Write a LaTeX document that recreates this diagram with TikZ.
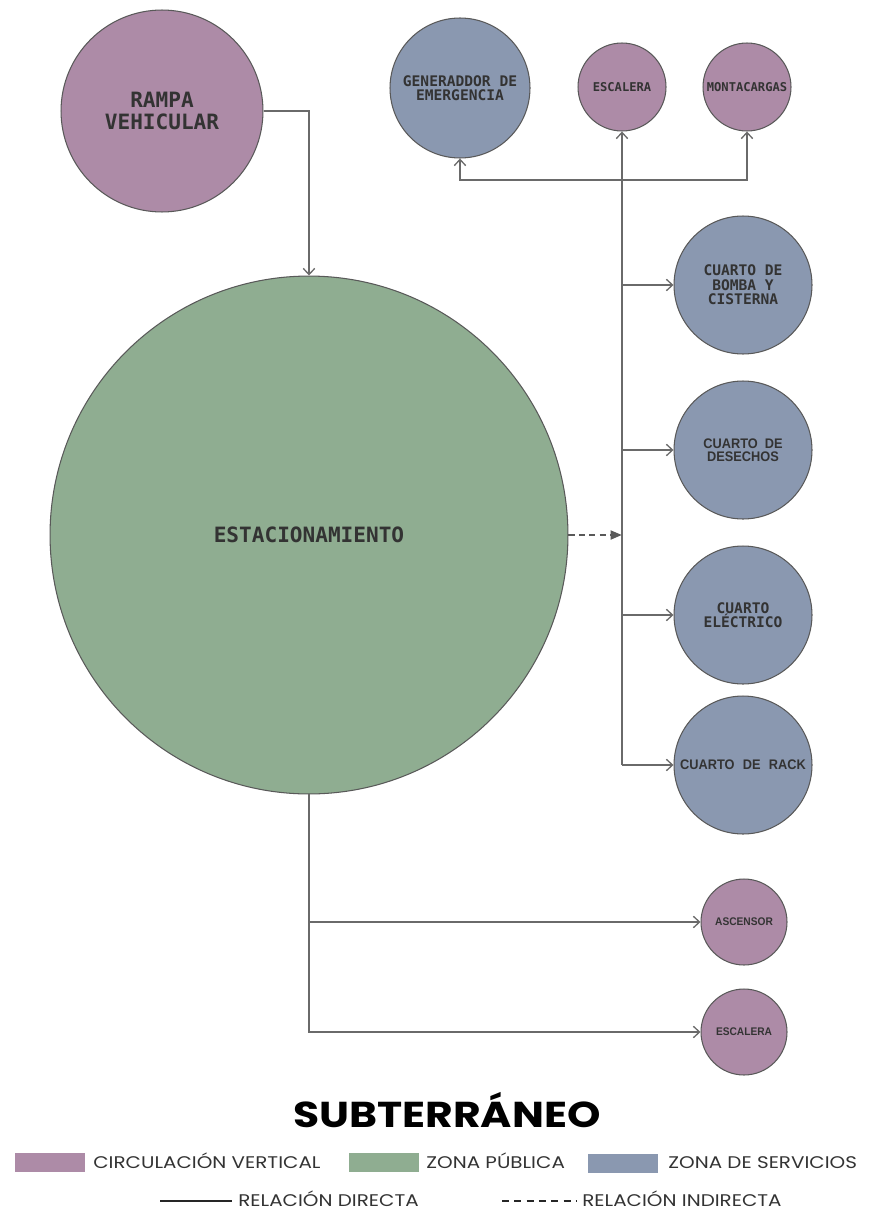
\documentclass[tikz,border=0pt]{standalone}
\usepackage{fontspec}
\setmonofont{DejaVu Sans Mono}
\newfontfamily\narrowfont[FakeStretch=0.92]{Liberation Sans}
\newfontfamily\legendfont[FakeStretch=1.18]{Poppins}
\usetikzlibrary{arrows.meta}
\definecolor{circv}{HTML}{AD8BA7}
\definecolor{zpub}{HTML}{8FAD91}
\definecolor{zserv}{HTML}{8A98B0}
\definecolor{edge}{HTML}{595959}
\definecolor{wire}{HTML}{6A6A6A}
\definecolor{ink}{HTML}{333333}
\begin{document}
\begin{tikzpicture}[x=0.02cm,y=-0.02cm,
zone/.style={circle,draw=edge,line width=0.6pt,inner sep=0pt,align=center,text=ink},
vert/.style={zone,fill=circv},pub/.style={zone,fill=zpub},serv/.style={zone,fill=zserv},
conn/.style={draw=wire,line width=0.75pt,-{Straight Barb[length=3.5pt,width=6.5pt]}},
dconn/.style={draw=black!65,line width=1.4pt,dash pattern=on 3.5pt off 2.4pt,-{Triangle[length=6.5pt,width=5pt]}},
swatch/.style={minimum width=1.4cm,minimum height=0.38cm,inner sep=0pt},
legtext/.style={anchor=base west,inner sep=0pt,text depth=0pt,text=ink,font=\legendfont\fontsize{9.6}{11}\selectfont}]
\useasboundingbox (0,0) rectangle (870,1210);
\node[vert,minimum size=4.04cm,font=\ttfamily\bfseries\fontsize{12}{12.5}\selectfont] (rampa) at (162,111){RAMPA\\VEHICULAR};
\node[pub,minimum size=10.36cm,font=\ttfamily\bfseries\fontsize{12}{12.5}\selectfont] (estac) at (309,535){ESTACIONAMIENTO};
\node[serv,minimum size=2.8cm,font=\ttfamily\bfseries\fontsize{8.3}{8}\selectfont] (gen) at (460,88){GENERADDOR DE\\EMERGENCIA};
\node[vert,minimum size=1.76cm,font=\ttfamily\bfseries\fontsize{6.9}{7}\selectfont] (escA) at (622,87){ESCALERA};
\node[vert,minimum size=1.76cm,font=\ttfamily\bfseries\fontsize{6.9}{7}\selectfont] (monta) at (747,87){MONTACARGAS};
\node[serv,minimum size=2.76cm,font=\ttfamily\bfseries\fontsize{8.3}{8.2}\selectfont] (bomba) at (743,285){CUARTO DE\\BOMBA Y\\CISTERNA};
\node[serv,minimum size=2.76cm,font=\narrowfont\bfseries\fontsize{7.9}{7.5}\selectfont] (desechos) at (743,450){CUARTO\hspace{.5em}DE\\DESECHOS};
\node[serv,minimum size=2.76cm,font=\ttfamily\bfseries\fontsize{8.3}{8.2}\selectfont] (electrico) at (743,615){CUARTO\\ELÉCTRICO};
\node[serv,minimum size=2.76cm,font=\narrowfont\bfseries\fontsize{7.9}{7.5}\selectfont] (rack) at (743,765){CUARTO\hspace{.6em}DE\hspace{.6em}RACK};
\node[vert,minimum size=1.72cm,font=\narrowfont\bfseries\fontsize{6.3}{7}\selectfont] (ascensor) at (744,922){ASCENSOR};
\node[vert,minimum size=1.72cm,font=\narrowfont\bfseries\fontsize{6.3}{7}\selectfont] (escB) at (744,1032){ESCALERA};
\coordinate (topbus) at (622,180);
\draw[conn] (rampa.east) -| (estac.north);
\draw[conn] (escA.south |- rack.west) -- (escA.south);
\draw[conn] (topbus) -| (gen.south);\draw[conn] (topbus) -| (monta.south);
\draw[conn] (escA.south |- bomba.west) -- (bomba.west);\draw[conn] (escA.south |- desechos.west) -- (desechos.west);
\draw[conn] (escA.south |- electrico.west) -- (electrico.west);\draw[conn] (escA.south |- rack.west) -- (rack.west);
\draw[dconn] (estac.east) -- (escA.south |- estac.east);
\draw[conn] (estac.south) |- (escB.west);\draw[conn] (estac.south |- ascensor.west) -- (ascensor.west);
\node[anchor=base,inner sep=0pt,text=black,font=\legendfont\bfseries\fontsize{20.5}{24}\selectfont] (titulo) at (447,1127){SUBTERRÁNEO};
\node[swatch,fill=circv] (swv) at (50,1162.5){};\node[legtext] (txv) at (93,1168){CIRCULACIÓN VERTICAL};
\node[swatch,fill=zpub] (swp) at (384,1162.5){};\node[legtext] (txp) at (426,1168){ZONA PÚBLICA};
\node[swatch,fill=zserv] (sws) at (622.5,1163){};\node[legtext] (txs) at (668,1168){ZONA DE SERVICIOS};
\node[legtext] (txd) at (238,1206){RELACIÓN DIRECTA};\node[legtext] (txi) at (582,1206){RELACIÓN INDIRECTA};
\coordinate (ld) at (160,1201);\coordinate (li) at (502,1201);
\draw[line width=1.2pt,draw=black!85] (ld) -- ++(72,0);
\draw[line width=1.2pt,draw=black!85,dash pattern=on 4pt off 3pt] (li) -- ++(75,0);
\end{tikzpicture}
\end{document}
